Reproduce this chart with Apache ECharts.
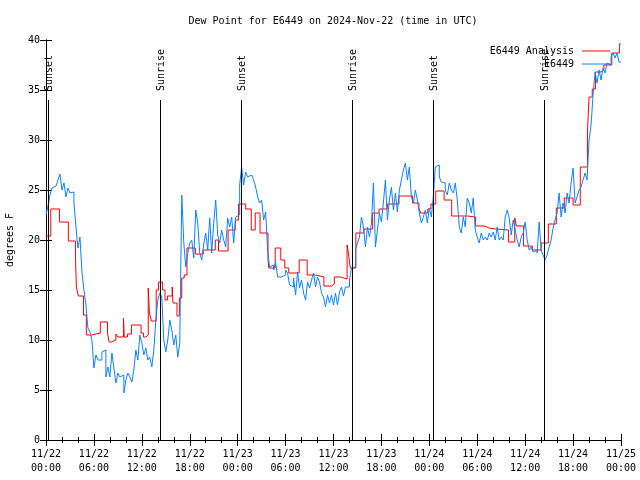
<!DOCTYPE html>
<html>
<head>
<meta charset="utf-8">
<script src="https://cdn.jsdelivr.net/npm/echarts@6/dist/echarts.min.js"></script>
<style>html,body{margin:0;padding:0;background:#fff}#c{width:640px;height:480px}</style>
</head>
<body>
<div id="c"></div>
<script>
// ---- data (hours since 2024-11-22 00:00 UTC) ----
const titleText = 'Dew Point for E6449 on 2024-Nov-22 (time in UTC)';
const yAxisName = 'degrees F';
const xTickLabels = ['11/22\n00:00','11/22\n06:00','11/22\n12:00','11/22\n18:00','11/23\n00:00','11/23\n06:00','11/23\n12:00','11/23\n18:00','11/24\n00:00','11/24\n06:00','11/24\n12:00','11/24\n18:00','11/25\n00:00'];
const analysisName = 'E6449 Analysis';
const obsName = 'E6449';
// Analysis (red) step change points
const redHours = [0,0.6,1.7,2.8,3.7,3.8,4.05,4.7,5.05,5.7,6.8,7.7,7.9,8.25,8.75,9.0,9.7,9.8,10.2,10.7,11.9,12.2,12.5,12.8,12.95,13.2,13.8,14.1,14.6,14.9,15.2,15.8,15.9,16.4,16.7,17.0,17.3,17.65,18.7,19.7,21.2,21.6,22.8,23.7,24.1,25.0,25.7,26.2,26.8,27.8,27.9,28.7,29.4,29.9,30.4,31.7,32.7,33.75,34.8,35.75,36.1,36.9,37.7,37.9,38.1,38.8,39.8,40.9,41.7,42.75,44.2,45.9,46.7,46.9,47.8,48.2,48.8,49.85,50.8,52.8,53.8,54.9,55.5,56.3,57.9,58.7,58.9,59.8,60.9,62.0,62.9,63.9,64.9,66.0,66.9,67.8,68.0,68.4,68.8,69.5,69.85,70.85,71.8,72];
const redValues = [20.4,23.1,21.8,19.9,18.0,15.3,14.4,12.5,10.5,10.7,11.8,10.7,9.8,10.0,10.6,10.3,12.2,10.3,10.6,11.5,10.7,10.3,10.5,15.2,12.7,11.9,15.0,15.8,15.0,14.0,14.4,15.3,13.7,12.4,14.2,16.2,16.5,19.2,18.6,19.0,20.0,18.9,21.0,22.0,23.6,23.1,21.0,22.7,20.7,18.0,17.2,19.2,18.0,17.2,16.7,18.0,16.5,16.3,15.4,15.6,16.3,16.1,19.5,18.5,17.2,20.7,21.1,22.7,23.1,23.6,24.4,23.7,23.2,22.7,23.1,23.6,24.9,24.0,22.4,22.3,21.4,21.2,21.1,21.0,19.8,22.2,21.4,19.4,19.0,19.7,21.6,23.2,24.2,23.5,27.3,30.9,34.3,35.1,36.8,37.0,37.5,38.7,39.6,39.6];
// Observations (blue), one reading every 15 minutes from 00:00
const obsStepMinutes = 15;
const obsValues = [
22.5,23.4,24.5,25.2, 25.4,25.6,26.0,26.6, 25.0,25.7,24.3,25.2, 24.7,24.8,23.7,21.3,
19.2,20.3,16.8,15.0, 13.5,11.2,10.8,10.0, 7.2,8.5,8.0,8.0, 8.8,9.0,6.3,7.3,
6.3,8.7,7.2,5.7, 6.7,6.3,6.5,4.7, 6.0,6.7,6.3,5.8, 7.0,9.0,8.0,10.5,
9.7,8.5,9.2,8.0, 8.3,7.3,9.0,12.0, 14.0,14.7,14.3,10.0, 8.8,10.0,12.0,11.0,
9.5,10.5,8.3,9.7, 24.5,19.8,17.3,18.7, 19.7,20.0,18.2,23.0, 21.7,18.7,18.0,19.6,
20.7,19.0,22.2,18.7, 21.7,24.0,20.5,19.7, 21.0,20.0,19.3,22.2, 21.3,22.3,19.7,22.3,
22.5,25.5,27.3,25.5, 26.8,26.3,26.5,26.4, 26.0,25.3,24.3,23.7, 24.0,22.0,22.8,19.0,
17.3,17.5,17.0,17.8, 16.3,16.3,16.3,16.5, 17.0,16.7,15.5,15.3, 16.2,14.5,16.8,15.2,
16.0,14.7,14.0,15.8, 15.2,16.0,16.7,15.3, 16.3,15.8,14.7,14.3, 13.3,14.5,13.7,14.5,
13.5,14.7,13.5,14.8, 15.3,14.4,15.3,15.3, 16.0,17.2,17.3,19.0, 19.7,20.3,22.3,21.3,
19.3,21.3,20.3,21.7, 25.7,19.3,21.0,22.7, 21.8,23.8,26.0,22.0, 24.0,25.3,23.0,24.7,
22.8,25.0,26.0,27.0, 27.7,26.0,27.3,24.3, 23.7,25.0,24.0,22.7, 21.7,22.3,23.0,21.7,
23.2,22.3,24.3,27.3, 27.5,26.3,25.8,25.7, 25.0,24.5,25.7,25.0, 24.7,25.7,24.0,21.3,
20.7,22.3,21.3,24.2, 23.7,22.7,24.2,21.0, 20.3,19.7,20.7,20.0, 20.3,20.0,20.7,20.3,
20.8,20.0,21.3,20.0, 20.3,20.0,22.3,23.0, 22.2,20.5,22.0,21.0, 20.0,19.3,20.3,20.7,
21.8,20.0,19.0,19.3, 18.8,19.0,18.7,21.8, 19.0,18.5,18.0,18.5, 19.3,20.0,21.2,22.0,
22.7,24.7,22.3,23.7, 22.7,24.7,23.7,25.7, 27.2,23.7,24.3,25.0, 25.3,26.0,26.7,26.0,
30.0,31.5,34.5,36.8, 35.7,37.0,36.0,37.2, 36.7,37.7,37.5,38.3, 38.7,38.2,38.7,37.8,
37.8];
// Sun events
const eventNames = ['Sunset','Sunrise','Sunset','Sunrise','Sunset','Sunrise'];
const eventHours = [0.29,14.22,24.4,38.3,48.47,62.4];

// ---- chart ----
const FONT = '"DejaVu Sans Mono", "Liberation Mono", monospace';
const redData = redHours.map((h, i) => [h, redValues[i]]);
const obsData = obsValues.map((v, i) => [i * obsStepMinutes / 60, v]);
const eventData = eventHours.map((h, i) => [h, eventNames[i]]);

const chart = echarts.init(document.getElementById('c'), null, {renderer: 'canvas'});
const axisCommon = {
  axisLine: {show: true, lineStyle: {color: '#000', width: 1}},
  splitLine: {show: false},
};
chart.setOption({
  animation: false,
  backgroundColor: '#fff',
  textStyle: {fontFamily: FONT},
  title: {
    text: titleText, left: 328, top: 11, textAlign: 'center',
    textStyle: {fontFamily: FONT, fontSize: 10, fontWeight: 'normal', color: '#000'}
  },
  legend: {
    data: [analysisName, obsName],
    orient: 'vertical', align: 'right', right: 30, top: 45, padding: 0,
    icon: 'rect', itemWidth: 28, itemHeight: 1, itemGap: 1,
    textStyle: {fontFamily: FONT, fontSize: 10, color: '#000', lineHeight: 12, padding: [0, 3, 0, 0]}
  },
  grid: {left: 46, right: 19, top: 40, bottom: 40, containLabel: false, outerBoundsMode: 'none'},
  xAxis: [
    Object.assign({
      type: 'value', min: 0, max: 72, interval: 6, position: 'bottom',
      axisTick: {show: true, inside: true, length: 6, lineStyle: {color: '#000'}},
      minorTick: {show: true, splitNumber: 3, length: 3, lineStyle: {color: '#000'}},
      axisLabel: {color: '#000', fontFamily: FONT, fontSize: 10, lineHeight: 14, margin: 7,
        formatter: v => xTickLabels[Math.round(v / 6)]}
    }, axisCommon),
    Object.assign({
      type: 'value', min: 0, max: 72, interval: 6, position: 'top',
      axisTick: {show: true, inside: true, length: 6, lineStyle: {color: '#000'}},
      minorTick: {show: true, splitNumber: 3, length: 3, lineStyle: {color: '#000'}},
      axisLabel: {show: false}
    }, axisCommon)
  ],
  yAxis: [
    Object.assign({
      type: 'value', min: 0, max: 40, interval: 5, position: 'left',
      name: yAxisName, nameLocation: 'middle', nameGap: 31, nameRotate: 90,
      nameTextStyle: {fontFamily: FONT, fontSize: 10, color: '#000'},
      axisTick: {show: true, inside: true, length: 6, lineStyle: {color: '#000'}},
      axisLabel: {color: '#000', fontFamily: FONT, fontSize: 10, margin: 6}
    }, axisCommon),
    Object.assign({
      type: 'value', min: 0, max: 40, interval: 5, position: 'right',
      axisTick: {show: true, inside: true, length: 6, lineStyle: {color: '#000'}},
      axisLabel: {show: false}
    }, axisCommon)
  ],
  series: [
    {
      name: analysisName, type: 'line', step: 'end', data: redData,
      symbol: 'none', lineStyle: {color: '#ff0000', width: 1}, itemStyle: {color: '#ff0000'},
      xAxisIndex: 0, yAxisIndex: 0, z: 3
    },
    {
      name: obsName, type: 'line', step: 'end', data: obsData,
      symbol: 'none', lineStyle: {color: '#0a84ff', width: 1}, itemStyle: {color: '#0a84ff'},
      xAxisIndex: 0, yAxisIndex: 0, z: 4
    },
    {
      name: 'sun', type: 'custom', data: eventData, xAxisIndex: 0, yAxisIndex: 0, z: 5,
      renderItem: function (params, api) {
        const x = api.value(0);
        const name = eventNames[params.dataIndex];
        const p0 = api.coord([x, 0]);
        const p1 = api.coord([x, 34]);
        const px = Math.round(p0[0]) + 0.5;
        return {
          type: 'group',
          children: [
            {type: 'line', shape: {x1: px, y1: p0[1], x2: px, y2: p1[1]},
             style: {stroke: '#000', lineWidth: 1}},
            {type: 'text', x: px + 1, y: p1[1] - 9, rotation: Math.PI / 2,
             style: {text: name, fill: '#000', font: '10px ' + FONT, align: 'left', verticalAlign: 'middle'}}
          ]
        };
      }
    }
  ]
});
</script>
</body>
</html>
